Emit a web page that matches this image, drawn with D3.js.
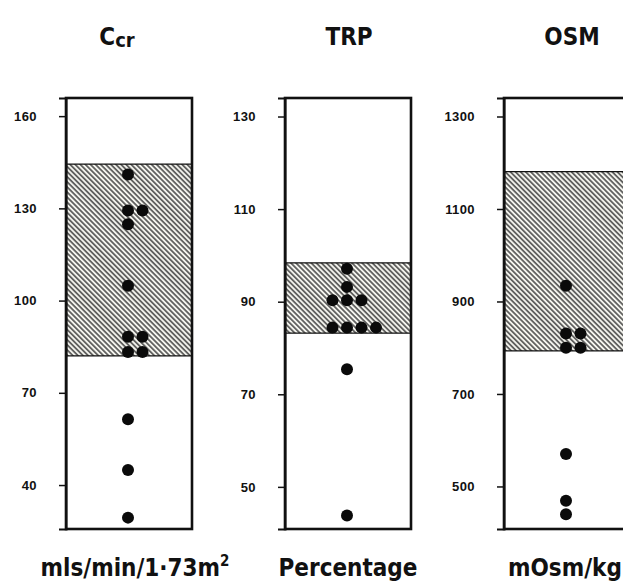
<!DOCTYPE html>
<html>
<head>
<meta charset="utf-8">
<script src="https://cdn.jsdelivr.net/npm/d3@7"></script>
<style>
  body { margin: 0; background: #fff; }
  svg text { font-family: "Liberation Sans Narrow", "DejaVu Sans Condensed", sans-serif; font-weight: bold; fill: #111; }
  .tick text { font-family: "Liberation Sans", Arial, sans-serif; font-size: 13px; letter-spacing: 0.4px; }
</style>
</head>
<body>
<svg id="chart" width="623" height="584"></svg>
<script>
// panel names and unit labels
var titles = ["Ccr", "TRP", "OSM"];
var units = ["mls/min/1\u00b773m", "Percentage", "mOsm/kg"];

// Ccr panel
var ccrDomain = [25.7, 165.9];
var ccrTicks = [40, 70, 100, 130, 160];
var ccrBand = [82, 144.4];
var ccrValues = [141, 129.3, 129.3, 124.8, 104.8, 88.2, 88.2, 83.3, 83.3, 61.4, 44.9, 29.4];
var ccrCols   = [0, 0, 1, 0, 0, 0, 1, 0, 1, 0, 0, 0];

// TRP panel
var trpDomain = [40.9, 134.0];
var trpTicks = [50, 70, 90, 110, 130];
var trpBand = [83.2, 98.4];
var trpValues = [97.1, 93.2, 90.3, 90.3, 90.3, 84.4, 84.4, 84.4, 84.4, 75.4, 43.8];
var trpCols   = [0, 0, -1, 0, 1, -1, 0, 1, 2, 0, 0];

// OSM panel
var osmDomain = [408, 1340];
var osmTicks = [500, 700, 900, 1100, 1300];
var osmBand = [793, 1181];
var osmValues = [934, 831, 831, 800, 800, 570, 469, 440];
var osmCols   = [0, 0, 1, 0, 1, 0, 0, 0];

var domains = [ccrDomain, trpDomain, osmDomain];
var tickSets = [ccrTicks, trpTicks, osmTicks];
var bands = [ccrBand, trpBand, osmBand];
var valueSets = [ccrValues, trpValues, osmValues];
var colSets = [ccrCols, trpCols, osmCols];

var TOP = 98, BOTTOM = 529, BOX_W = 126, R = 6;
var svg = d3.select("#chart");

var defs = svg.append("defs");
var pat = defs.append("pattern")
    .attr("id", "hatch")
    .attr("patternUnits", "userSpaceOnUse")
    .attr("width", 4)
    .attr("height", 3.6)
    .attr("patternTransform", "rotate(45)");
pat.append("rect").attr("width", 4).attr("height", 3.6).attr("fill", "#f4f4ee");
pat.append("line")
    .attr("x1", 0).attr("x2", 4)
    .attr("y1", 1.8).attr("y2", 1.8)
    .attr("stroke", "#2a2a2a")
    .attr("stroke-width", 1.3);

// where each panel's box starts
var panelX = d3.scaleLinear().domain([0, 2]).range([66, 504]);
// dot columns inside a box, relative to box left
var colX = d3.scaleLinear().domain([0, 1]).range([62, 76.5]);

var titleShift = [-12, 1, 5];
var unitShift = [6, 0, 0];

titles.forEach(function(t, i) {
    var x0 = panelX(i);
    var y = d3.scaleLinear().domain(domains[i]).range([BOTTOM, TOP]);
    var g = svg.append("g").attr("transform", "translate(" + x0 + ",0)");

    // hatched normal range
    var b = bands[i];
    g.append("rect")
        .attr("x", 0).attr("y", y(b[1]))
        .attr("width", BOX_W).attr("height", y(b[0]) - y(b[1]))
        .attr("fill", "url(#hatch)");
    g.selectAll("line.bandedge")
        .data(b)
        .enter().append("line")
        .attr("class", "bandedge")
        .attr("x1", 0).attr("x2", BOX_W)
        .attr("y1", function(d) { return y(d); })
        .attr("y2", function(d) { return y(d); })
        .attr("stroke", "#111").attr("stroke-width", 1.3);

    // axis
    var axis = d3.axisLeft(y)
        .tickValues(tickSets[i])
        .tickFormat(d3.format("d"))
        .tickSize(7).tickSizeOuter(7).tickPadding(22);
    var ag = g.append("g").call(axis);
    ag.select(".domain").attr("stroke", "#111").attr("stroke-width", 2);
    ag.selectAll(".tick line").attr("stroke", "#111").attr("stroke-width", 1.5);

    // box
    g.append("rect")
        .attr("x", 0).attr("y", TOP)
        .attr("width", BOX_W).attr("height", BOTTOM - TOP)
        .attr("fill", "none").attr("stroke", "#111").attr("stroke-width", 2.6);

    // dots
    var cols = colSets[i];
    g.selectAll("circle")
        .data(valueSets[i])
        .enter().append("circle")
        .attr("cx", function(d, k) { return colX(cols[k]); })
        .attr("cy", function(d) { return y(d); })
        .attr("r", R)
        .attr("fill", "#0a0a0a");

    // title
    var cx = x0 + BOX_W / 2;
    var tt = svg.append("text")
        .attr("x", cx + titleShift[i]).attr("y", 45)
        .attr("text-anchor", "middle")
        .style("font-size", "24px");
    if (i === 0) {
        tt.append("tspan").text("C");
        tt.append("tspan").attr("dy", 2).style("font-size", "20px").text("cr");
    } else {
        tt.text(t);
    }

    // unit label (the last one runs off the right edge, as in the original)
    var ut = svg.append("text")
        .attr("y", 576)
        .style("font-size", "24px");
    if (i === 2) {
        ut.attr("x", x0 + 4).attr("text-anchor", "start");
    } else {
        ut.attr("x", cx + unitShift[i]).attr("text-anchor", "middle");
    }
    ut.append("tspan").text(units[i]);
    if (i === 0) {
        ut.append("tspan").attr("dy", -10).style("font-size", "15px").text("2");
    }
});
</script>
</body>
</html>
